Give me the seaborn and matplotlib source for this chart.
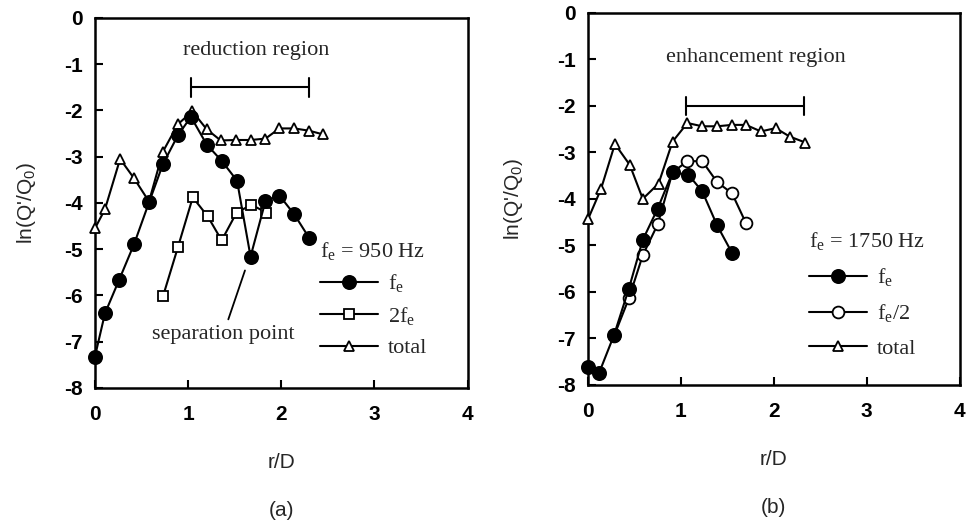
import matplotlib
matplotlib.use("Agg")
import matplotlib.pyplot as plt
import seaborn as sns
import pandas as pd

# ---- data: panel (a), fe = 950 Hz ----
a_fe_x = [0.0, 0.107, 0.26, 0.42, 0.58, 0.73, 0.89, 1.03, 1.20, 1.36, 1.525, 1.67, 1.83, 1.98, 2.14, 2.30]
a_fe_y = [-7.32, -6.39, -5.66, -4.89, -3.99, -3.16, -2.54, -2.14, -2.74, -3.09, -3.52, -5.16, -3.96, -3.84, -4.25, -4.76]
a_2fe_x = [0.73, 0.89, 1.05, 1.21, 1.36, 1.52, 1.68, 1.84]
a_2fe_y = [-6.02, -4.96, -3.88, -4.29, -4.81, -4.21, -4.04, -4.21]
a_tot_x = [0.0, 0.107, 0.27, 0.42, 0.58, 0.73, 0.89, 1.045, 1.20, 1.35, 1.51, 1.67, 1.83, 1.98, 2.14, 2.30, 2.45]
a_tot_y = [-4.55, -4.14, -3.05, -3.47, -3.97, -2.89, -2.30, -2.02, -2.41, -2.65, -2.64, -2.64, -2.61, -2.39, -2.39, -2.44, -2.52]

# ---- data: panel (b), fe = 1750 Hz ----
b_fe_x = [0.0, 0.118, 0.28, 0.44, 0.59, 0.75, 0.91, 1.08, 1.23, 1.39, 1.55]
b_fe_y = [-7.61, -7.75, -6.93, -5.93, -4.88, -4.21, -3.43, -3.48, -3.84, -4.57, -5.16]
b_half_x = [0.28, 0.44, 0.59, 0.75, 0.91, 1.07, 1.23, 1.39, 1.55, 1.70]
b_half_y = [-6.95, -6.14, -5.21, -4.55, -3.43, -3.19, -3.19, -3.64, -3.88, -4.52]
b_tot_x = [0.0, 0.14, 0.29, 0.45, 0.59, 0.76, 0.91, 1.07, 1.23, 1.39, 1.55, 1.70, 1.86, 2.02, 2.17, 2.34]
b_tot_y = [-4.44, -3.79, -2.82, -3.27, -4.00, -3.67, -2.77, -2.37, -2.44, -2.44, -2.41, -2.41, -2.55, -2.48, -2.66, -2.79]

x_ticks = [0, 1, 2, 3, 4]
y_ticks = [0, -1, -2, -3, -4, -5, -6, -7, -8]

sns.set_style("ticks")
plt.rcParams['font.family'] = ['Liberation Sans', 'DejaVu Sans']
SERIF = 'Liberation Serif'

fig = plt.figure(figsize=(9.68, 5.25), dpi=100)
axA = fig.add_axes([0.0981, 0.261, 0.385, 0.705])
axB = fig.add_axes([0.6074, 0.2667, 0.384, 0.709])

LW = 1.5

def series(ax, xs, ys, marker, ms, face, label):
    df = pd.DataFrame({"x": xs, "y": ys})
    sns.lineplot(data=df, x="x", y="y", ax=ax, color="black", lw=LW, marker=marker,
                 markersize=ms, markerfacecolor=face, markeredgecolor="black",
                 markeredgewidth=1.3, estimator=None, sort=False, label=label,
                 clip_on=False, zorder=3)

# panel a
series(axA, a_tot_x, a_tot_y, '^', 7, 'white', 'total')
series(axA, a_2fe_x, a_2fe_y, 's', 7, 'white', '2f$_\\mathregular{e}$')
series(axA, a_fe_x, a_fe_y, 'o', 9.5, 'black', 'f$_\\mathregular{e}$')

# panel b
series(axB, b_tot_x, b_tot_y, '^', 7, 'white', 'total')
series(axB, b_half_x, b_half_y, 'o', 8.5, 'white', 'f$_\\mathregular{e}$/2')
series(axB, b_fe_x, b_fe_y, 'o', 9.5, 'black', 'f$_\\mathregular{e}$')

for ax, lab, ylc in [(axA, '(a)', -0.185), (axB, '(b)', -0.2)]:
    ax.set_xlim(0, 4)
    ax.set_ylim(-8, 0)
    ax.set_xticks(x_ticks)
    ax.set_yticks(y_ticks)
    ax.set_xticklabels([str(t) for t in x_ticks], fontsize=15, fontweight='bold')
    ax.set_yticklabels([str(t) for t in y_ticks], fontsize=15, fontweight='bold')
    ax.tick_params(direction='in', length=6, width=1.5, colors='black')
    ax.tick_params(axis='x', pad=12)
    ax.tick_params(axis='y', pad=9)
    for s in ax.spines.values():
        s.set_linewidth(1.8)
        s.set_color('black')
        s.set_visible(True)
    ax.set_xlabel('r/D', fontsize=15, va='center')
    ax.xaxis.set_label_coords(0.5, -0.2)
    ax.set_ylabel("ln(Q'/Q$_\\mathregular{0}$)", fontsize=15, va='center')
    ax.yaxis.set_label_coords(ylc, 0.5)
    ax.text(0.5, -0.33, lab, transform=ax.transAxes, ha='center', va='center', fontsize=15)

def make_legend(ax, title, order, anchor, spacing):
    h, l = ax.get_legend_handles_labels()
    idx = [l.index(o) for o in order]
    leg = ax.legend([h[i] for i in idx], [l[i] for i in idx], title=title,
                    loc='upper left', bbox_to_anchor=anchor, frameon=False,
                    prop={'family': SERIF, 'size': 16},
                    title_fontproperties={'family': SERIF, 'size': 16},
                    handlelength=2.6, handletextpad=0.45, labelspacing=spacing,
                    borderpad=0, borderaxespad=0, alignment='left')
    return leg

make_legend(axA, 'f$_\\mathregular{e}$ = 950 Hz',
            ['f$_\\mathregular{e}$', '2f$_\\mathregular{e}$', 'total'], (0.605, 0.40), 0.45)
make_legend(axB, 'f$_\\mathregular{e}$ = 1750 Hz',
            ['f$_\\mathregular{e}$', 'f$_\\mathregular{e}$/2', 'total'], (0.595, 0.415), 0.6)

# region brackets
def bracket(ax, x1, x2, y, h=0.2):
    ax.plot([x1, x2], [y, y], color='black', lw=1.5)
    ax.plot([x1, x1], [y - h, y + h], color='black', lw=1.5)
    ax.plot([x2, x2], [y - h, y + h], color='black', lw=1.5)

bracket(axA, 1.036, 2.30, -1.5)
axA.text(1.73, -0.71, 'reduction region', family=SERIF, fontsize=16, ha='center', va='center')
bracket(axB, 1.06, 2.33, -2.0)
axB.text(1.81, -0.96, 'enhancement region', family=SERIF, fontsize=16, ha='center', va='center')

axA.annotate('separation point', xy=(1.61, -5.46), xytext=(1.375, -6.85),
             family=SERIF, fontsize=16, ha='center', va='center',
             arrowprops=dict(arrowstyle='-', lw=1.3, color='black', shrinkA=2, shrinkB=0))

fig.savefig('out.png', dpi=100)
